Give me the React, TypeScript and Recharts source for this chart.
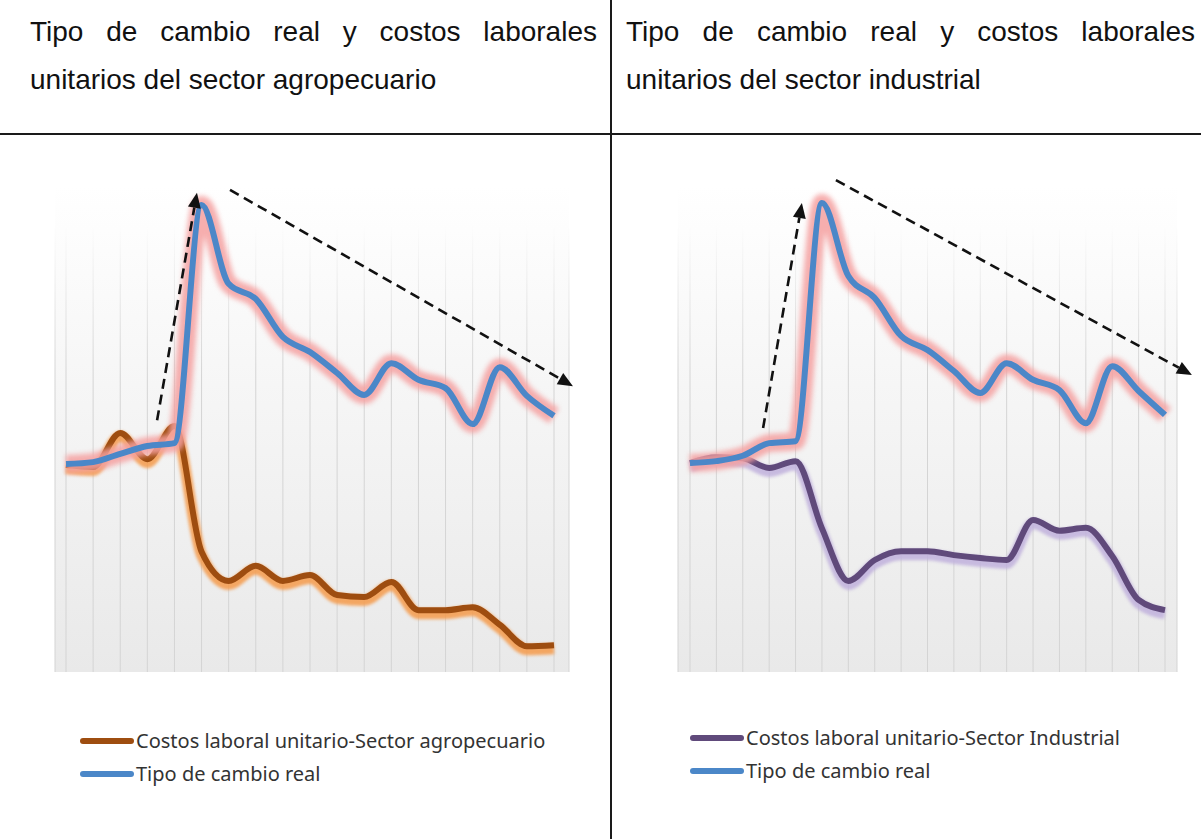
import { LineChart, Line, XAxis, YAxis, CartesianGrid, ReferenceLine } from 'recharts'

// x positions (periods) shared by both panels
const periods = [0, 1, 2, 3, 4, 5, 6, 7, 8, 9, 10, 11, 12, 13, 14, 15, 16, 17, 18]

// left panel: agropecuario
const tcrAgro = [42.7, 43.1, 44.8, 46.4, 47.0, 95.9, 79.7, 76.6, 68.8, 65.7, 61.4, 56.9, 63.4, 60.0, 58.3, 50.9, 62.6, 56.7, 52.6]
const costoAgro = [42.5, 42.1, 49.1, 43.7, 50.5, 24.7, 18.7, 21.8, 18.7, 19.9, 15.8, 15.4, 18.5, 12.7, 12.7, 13.3, 9.7, 5.3, 5.5]

// right panel: industrial
const tcrIndustria = [42.9, 43.3, 44.4, 47.0, 47.4, 96.3, 81.3, 76.8, 69.0, 66.1, 61.8, 57.3, 63.4, 60.0, 57.9, 51.1, 62.8, 57.7, 52.8]
const costoIndustria = [42.9, 44.1, 43.9, 41.9, 43.3, 29.5, 18.7, 23.0, 24.8, 24.8, 24.0, 23.4, 23.0, 31.2, 29.0, 29.6, 23.8, 14.8, 12.7]

// dashed trend arrows [tail, tip] in data units
const arrowsAgro = [
  [{ x: 3.36, y: 51.7 }, { x: 4.83, y: 98.4 }],
  [{ x: 6.05, y: 99.0 }, { x: 18.7, y: 58.7 }],
]
const arrowsIndustria = [
  [{ x: 2.77, y: 50.1 }, { x: 4.24, y: 96.3 }],
  [{ x: 5.53, y: 101.0 }, { x: 19.02, y: 61.0 }],
]

const TITLE_AGRO = 'Tipo de cambio real y costos laborales unitarios del sector agropecuario'
const TITLE_IND = 'Tipo de cambio real y costos laborales unitarios del sector industrial'
const LABEL_COSTO_AGRO = 'Costos laboral unitario-Sector agropecuario'
const LABEL_COSTO_IND = 'Costos laboral unitario-Sector Industrial'
const LABEL_TCR = 'Tipo de cambio real'

const BLUE = '#4b87c8'
const BLUE_GLOW = '#f4a0a0'

function DashedArrow(props: any) {
  const { x1, y1, x2, y2 } = props
  const dx = x2 - x1
  const dy = y2 - y1
  const len = Math.hypot(dx, dy) || 1
  const ux = dx / len
  const uy = dy / len
  const head = 15
  const half = 6.5
  const bx = x2 - ux * head
  const by = y2 - uy * head
  return (
    <g>
      <line x1={x1} y1={y1} x2={bx} y2={by} stroke="#111" strokeWidth={2.6} strokeDasharray="10 6" />
      <polygon
        points={`${x2},${y2} ${bx - uy * half},${by + ux * half} ${bx + uy * half},${by - ux * half}`}
        fill="#111"
      />
    </g>
  )
}

type PanelProps = {
  id: string
  left: number
  width: number
  margin: { top: number; right: number; bottom: number; left: number }
  padding: { left: number; right: number }
  tcr: number[]
  costo: number[]
  costoColor: string
  costoGlow: string
  arrows: { x: number; y: number }[][]
}

function Panel({ id, left, width, margin, padding, tcr, costo, costoColor, costoGlow, arrows }: PanelProps) {
  const data = periods.map((p, i) => ({ p, tcr: tcr[i], costo: costo[i] }))
  const height = 560
  return (
    <div style={{ position: 'absolute', left, top: 140 }}>
      <LineChart width={width} height={height} data={data} margin={margin}>
        <defs>
          <linearGradient id={`bg-${id}`} x1="0" y1="0" x2="0" y2="1">
            <stop offset="0%" stopColor="#ffffff" />
            <stop offset="100%" stopColor="#e9e9e9" />
          </linearGradient>
          <linearGradient id={`grid-${id}`} gradientUnits="userSpaceOnUse" x1="0" y1={margin.top + 40} x2="0" y2={margin.top + 190}>
            <stop offset="0%" stopColor="#d4d4d4" stopOpacity={0} />
            <stop offset="100%" stopColor="#d4d4d4" stopOpacity={1} />
          </linearGradient>
        </defs>
        <CartesianGrid horizontal={false} fill={`url(#bg-${id})`} fillOpacity={1} stroke={`url(#grid-${id})`} />
        <XAxis dataKey="p" type="number" domain={[0, 18]} ticks={periods} padding={padding} hide />
        <YAxis type="number" domain={[0, 100]} hide />
        <Line dataKey="costo" type="monotone" className="glow-drop" stroke={costoGlow} strokeWidth={11} strokeOpacity={0.85} dot={false} activeDot={false} isAnimationActive={false} />
        <Line dataKey="costo" type="monotone" stroke={costoColor} strokeWidth={6} dot={false} activeDot={false} isAnimationActive={false} />
        <Line dataKey="tcr" type="monotone" className="glow-soft" stroke={BLUE_GLOW} strokeWidth={18} strokeOpacity={0.85} dot={false} activeDot={false} isAnimationActive={false} />
        <Line dataKey="tcr" type="monotone" stroke={BLUE} strokeWidth={6} dot={false} activeDot={false} isAnimationActive={false} />
        {arrows.map((seg, i) => (
          <ReferenceLine key={i} segment={seg} ifOverflow="visible" shape={DashedArrow} />
        ))}
      </LineChart>
    </div>
  )
}

function Title({ left, width, text }: { left: number; width: number; text: string }) {
  return (
    <div
      style={{
        position: 'absolute', left, top: 8, width,
        fontFamily: '"Liberation Sans", Arial, sans-serif', fontSize: 28, lineHeight: '48px',
        textAlign: 'justify', color: '#111',
      }}
    >
      {text}
    </div>
  )
}

function LegendRow({ color, label }: { color: string; label: string }) {
  return (
    <div style={{ display: 'flex', alignItems: 'center', height: 33 }}>
      <div style={{ width: 54, height: 6, borderRadius: 3, background: color, marginRight: 2 }} />
      <span>{label}</span>
    </div>
  )
}

function Legend({ left, top, items }: { left: number; top: number; items: { color: string; label: string }[] }) {
  return (
    <div
      style={{
        position: 'absolute', left, top,
        fontFamily: '"Noto Sans", "Open Sans", sans-serif', fontSize: 20, color: '#333',
        whiteSpace: 'nowrap',
      }}
    >
      {items.map((it) => <LegendRow key={it.label} color={it.color} label={it.label} />)}
    </div>
  )
}

export default function App() {
  return (
    <div style={{ position: 'absolute', left: 0, top: 0, width: 1201, height: 839, background: '#fff', overflow: 'hidden' }}>
      <style>{`
        .glow-soft .recharts-curve { filter: blur(2.5px); }
        .glow-drop .recharts-curve { filter: blur(1.8px); transform: translateY(3.5px); }
      `}</style>

      <Title left={30} width={567} text={TITLE_AGRO} />
      <Title left={626} width={569} text={TITLE_IND} />

      <div style={{ position: 'absolute', left: 0, top: 133, width: 1201, height: 2, background: '#1a1a1a' }} />
      <div style={{ position: 'absolute', left: 610, top: 0, width: 2, height: 839, background: '#1a1a1a' }} />

      <Panel
        id="agro"
        left={0}
        width={611}
        margin={{ top: 45, right: 42, bottom: 28, left: 55 }}
        padding={{ left: 11, right: 15 }}
        tcr={tcrAgro}
        costo={costoAgro}
        costoColor="#9e4d10"
        costoGlow="#f59a4a"
        arrows={arrowsAgro}
      />
      <Panel
        id="ind"
        left={611}
        width={590}
        margin={{ top: 45, right: 24, bottom: 28, left: 67 }}
        padding={{ left: 12, right: 12 }}
        tcr={tcrIndustria}
        costo={costoIndustria}
        costoColor="#604a7b"
        costoGlow="#c0b0dc"
        arrows={arrowsIndustria}
      />

      <Legend left={80} top={724} items={[{ color: '#9e4d10', label: LABEL_COSTO_AGRO }, { color: BLUE, label: LABEL_TCR }]} />
      <Legend left={690} top={721} items={[{ color: '#604a7b', label: LABEL_COSTO_IND }, { color: BLUE, label: LABEL_TCR }]} />
    </div>
  )
}
